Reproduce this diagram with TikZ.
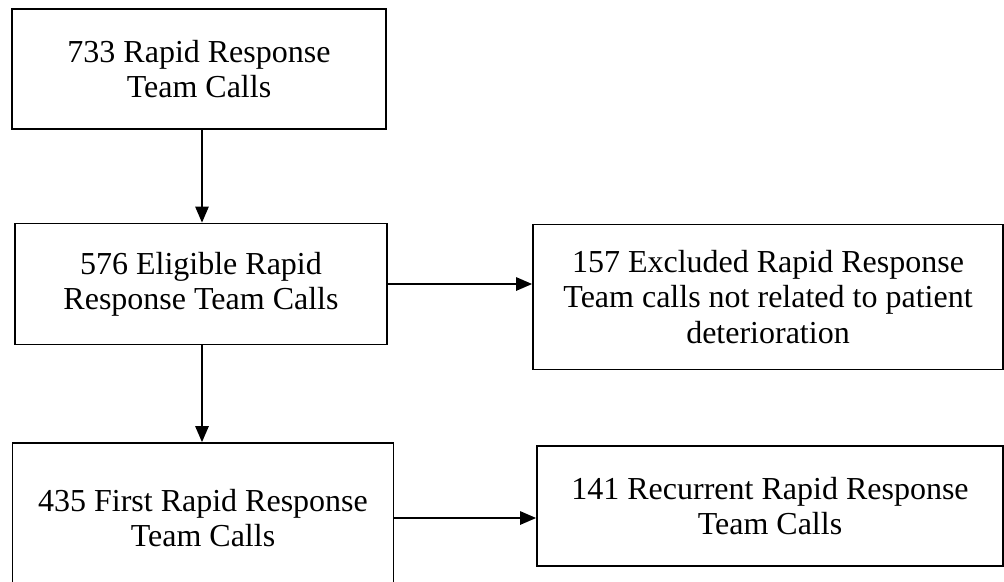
\documentclass[tikz,border=0pt]{standalone}
\usepackage{fontspec}
\setmainfont{Liberation Serif}
\usepackage{tikz}
\usetikzlibrary{arrows.meta}

\tikzset{
  flowbox/.style={draw, line width=1.3pt, inner sep=0pt, align=center,
    font=\fontsize{24}{26.5}\selectfont},
  flowarrow/.style={line width=1.3pt, -{Triangle[length=12pt, width=10pt]}}
}

\begin{document}
\begin{tikzpicture}[x=0.75pt,y=0.75pt,yscale=-1,xscale=1]
%set diagram size to the reference, 1004 x 582
\useasboundingbox (0,0) rectangle (1004,582);
% Text Node
\node [flowbox, minimum width=280.5pt, minimum height=90pt] (n733) at (199,69) {733 Rapid Response\\Team Calls};
% Text Node
\node [flowbox, minimum width=279pt, minimum height=90.75pt] (n576) at (201,284) {576 Eligible Rapid\\Response Team Calls};
% Text Node
\node [flowbox, minimum width=352.5pt, minimum height=108.75pt] (n157) at (768,297) {157 Excluded Rapid Response\\Team calls not related to patient\\deterioration};
% Text Node
\node [flowbox, minimum width=285.75pt, minimum height=112.5pt] (n435) at (203,518) {435 First Rapid Response\\Team Calls};
% Text Node
\node [flowbox, minimum width=349.5pt, minimum height=90pt] (n141) at (770,506) {141 Recurrent Rapid Response\\Team Calls};
%Straight Lines
\draw [flowarrow] (n733.south -| 202,0) -- (n576.north -| 202,0);
\draw [flowarrow] (n576.south -| 202,0) -- (n435.north -| 202,0);
\draw [flowarrow] (n576.east) -- (n576.east -| n157.west);
\draw [flowarrow] (n435.east) -- (n435.east -| n141.west);
\end{tikzpicture}
\end{document}
